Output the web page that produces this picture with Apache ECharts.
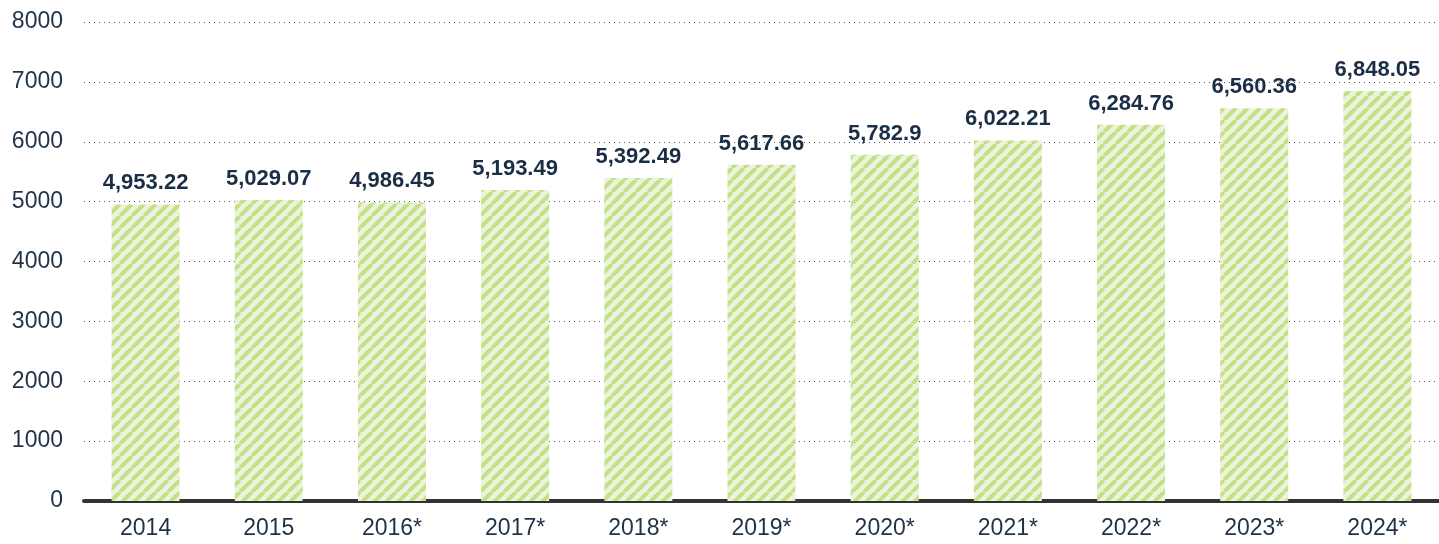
<!DOCTYPE html>
<html>
<head>
<meta charset="utf-8">
<script src="https://cdn.jsdelivr.net/npm/echarts@6/dist/echarts.min.js"></script>
<style>
  html, body { margin: 0; padding: 0; background: #fff; }
  #chart { width: 1439px; height: 544px; }
</style>
</head>
<body>
<div id="chart"></div>
<script>
const years = ['2014', '2015', '2016*', '2017*', '2018*', '2019*', '2020*', '2021*', '2022*', '2023*', '2024*'];
const values = [4953.22, 5029.07, 4986.45, 5193.49, 5392.49, 5617.66, 5782.9, 6022.21, 6284.76, 6560.36, 6848.05];
const yTicks = [0, 1000, 2000, 3000, 4000, 5000, 6000, 7000, 8000];

// diagonal stripe fill
function stripes() {
  const c = document.createElement('canvas');
  c.width = 12; c.height = 12;
  const ctx = c.getContext('2d');
  ctx.fillStyle = '#eaf4da';
  ctx.fillRect(0, 0, 12, 12);
  ctx.strokeStyle = '#c4df86';
  ctx.lineWidth = 4;
  ctx.beginPath();
  for (let k = -12; k <= 24; k += 12) {
    ctx.moveTo(k - 12, 12);
    ctx.lineTo(k, 0);
  }
  ctx.stroke();
  return c;
}

const chart = echarts.init(document.getElementById('chart'));

function fmt(v) {
  return v.toLocaleString('en-US', { maximumFractionDigits: 2 });
}

chart.setOption({
  animation: false,
  grid: { left: 84, right: -11, top: 22, bottom: 43, containLabel: false },
  xAxis: {
    type: 'category',
    data: years,
    axisLine: { show: true, lineStyle: { color: '#333', width: 4 } },
    axisTick: { show: false },
    axisLabel: {
      color: '#1f3247',
      fontFamily: '"Liberation Sans Narrow", "Liberation Sans", sans-serif',
      fontSize: 23,
      margin: 16
    }
  },
  yAxis: {
    type: 'value',
    min: yTicks[0],
    max: yTicks[yTicks.length - 1],
    interval: 1000,
    axisLine: { show: false },
    axisTick: { show: false },
    splitLine: { lineStyle: { color: '#555', type: [1, 4], width: 1 } },
    axisLabel: {
      color: '#1f3247',
      fontFamily: '"Liberation Sans", Arial, sans-serif',
      fontSize: 23,
      margin: 21,
      formatter: v => String(v)
    }
  },
  series: [{
    type: 'bar',
    data: values,
    barWidth: 68,
    itemStyle: { color: { image: stripes(), repeat: 'repeat' } },
    label: {
      show: true,
      position: 'top',
      distance: 10,
      color: '#1a2e45',
      fontFamily: '"Liberation Sans Narrow", "Liberation Sans", sans-serif',
      fontWeight: 'bold',
      fontSize: 22,
      formatter: p => fmt(p.value)
    }
  }]
});
</script>
</body>
</html>
